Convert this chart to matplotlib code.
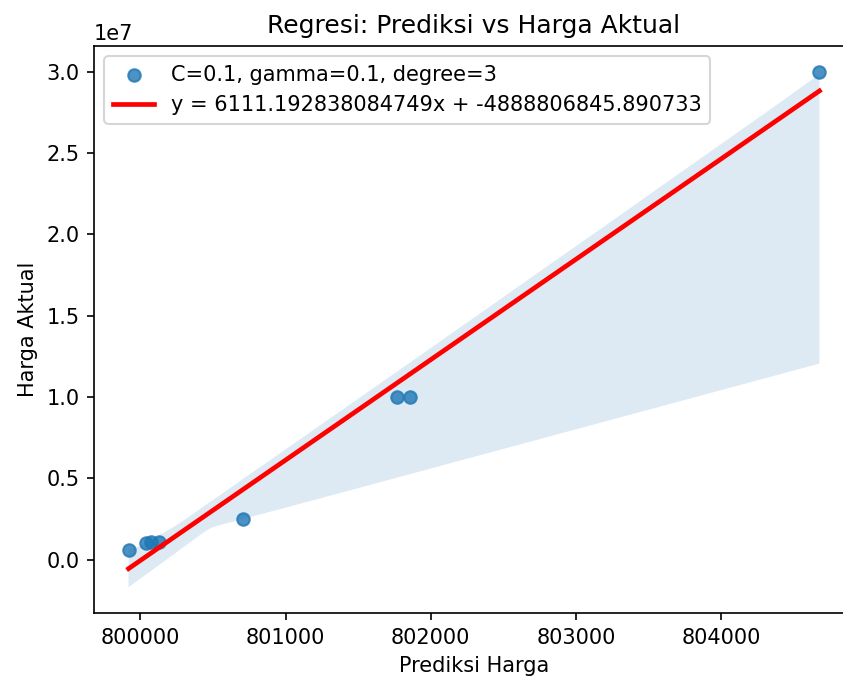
import matplotlib
matplotlib.use("Agg")
import matplotlib.pyplot as plt
import seaborn as sns
import numpy as np

# prediksi model vs harga aktual
prediksi = [799919, 800039, 800076, 800131, 800709, 801770, 801860, 804676]
aktual = [600000, 1000000, 1100000, 1100000, 2500000, 10000000, 10000000, 30000000]

label_scatter = "C=0.1, gamma=0.1, degree=3"
label_line = "y = 6111.192838084749x + -4888806845.890733"

fig = plt.figure(figsize=(843 / 150, 680 / 150), dpi=150)
# axes run past the right edge, like the cropped original
ax = fig.add_axes([94 / 843, 67 / 680, 760 / 843, 567 / 680])

sns.regplot(x=np.array(prediksi), y=np.array(aktual), ax=ax, label=label_scatter,
            line_kws={"label": label_line}, seed=0)
ax.lines[0].set_color("red")

ax.set_title("Regresi: Prediksi vs Harga Aktual")
ax.set_xlabel("Prediksi Harga")
ax.set_ylabel("Harga Aktual")
ax.legend(loc="upper left")

plt.savefig("out.png", dpi=150)
